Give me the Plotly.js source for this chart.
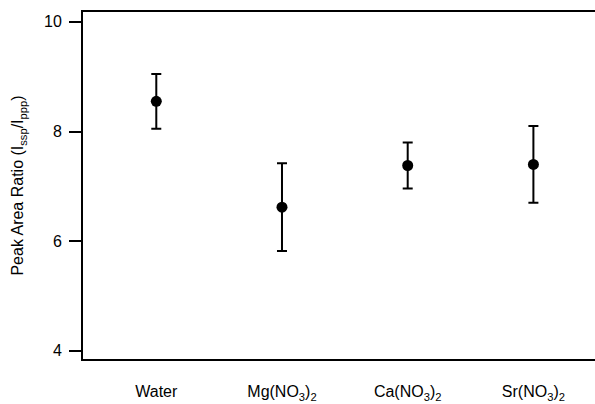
<!DOCTYPE html>
<html>
<head>
<meta charset="utf-8">
<script src="https://cdn.plot.ly/plotly-3.0.1.min.js"></script>
<style>
  html, body { margin: 0; padding: 0; background: #fff; }
  #chart { width: 595px; height: 404px; }
</style>
</head>
<body>
<div id="chart"></div>
<script>
const categories = ["Water", "Mg(NO<sub>3</sub>)<sub>2</sub>", "Ca(NO<sub>3</sub>)<sub>2</sub>", "Sr(NO<sub>3</sub>)<sub>2</sub>"];
const positions = [0, 1, 2, 3];
const ratioValues = [8.55, 6.62, 7.38, 7.40];
const ratioErrors = [0.50, 0.80, 0.42, 0.70];
const yTickValues = [4, 6, 8, 10];

const trace = {
  type: "scatter",
  mode: "markers",
  x: positions,
  y: ratioValues,
  error_y: { type: "data", array: ratioErrors, visible: true, color: "#000", thickness: 2, width: 5 },
  marker: { color: "#000", size: 11, symbol: "circle" },
  hoverinfo: "skip"
};

const layout = {
  width: 595, height: 404,
  margin: { l: 83, r: 0, t: 12, b: 45 },
  paper_bgcolor: "#fff", plot_bgcolor: "#fff",
  showlegend: false,
  font: { family: "Liberation Sans, Arial, sans-serif", size: 16, color: "#000" },
  xaxis: {
    range: [-0.583, 3.49],
    tickvals: positions,
    ticktext: categories,
    ticks: "",
    showgrid: false, zeroline: false,
    showline: true, linecolor: "#000", linewidth: 2, mirror: true,
    ticklabelstandoff: 17,
    tickfont: { size: 16 }
  },
  yaxis: {
    range: [3.85, 10.18],
    tickvals: yTickValues,
    ticktext: yTickValues.map(String),
    ticks: "outside", ticklen: 12, tickwidth: 2, tickcolor: "#000",
    showgrid: false, zeroline: false,
    showline: true, linecolor: "#000", linewidth: 2,
    ticklabelstandoff: 4,
    tickfont: { size: 16 },
    title: { text: "Peak Area Ratio (I<sub>ssp</sub>/I<sub>ppp</sub>)", font: { size: 16 }, standoff: 16 }
  }
};

Plotly.newPlot("chart", [trace], layout, { staticPlot: true, displayModeBar: false });
</script>
</body>
</html>
